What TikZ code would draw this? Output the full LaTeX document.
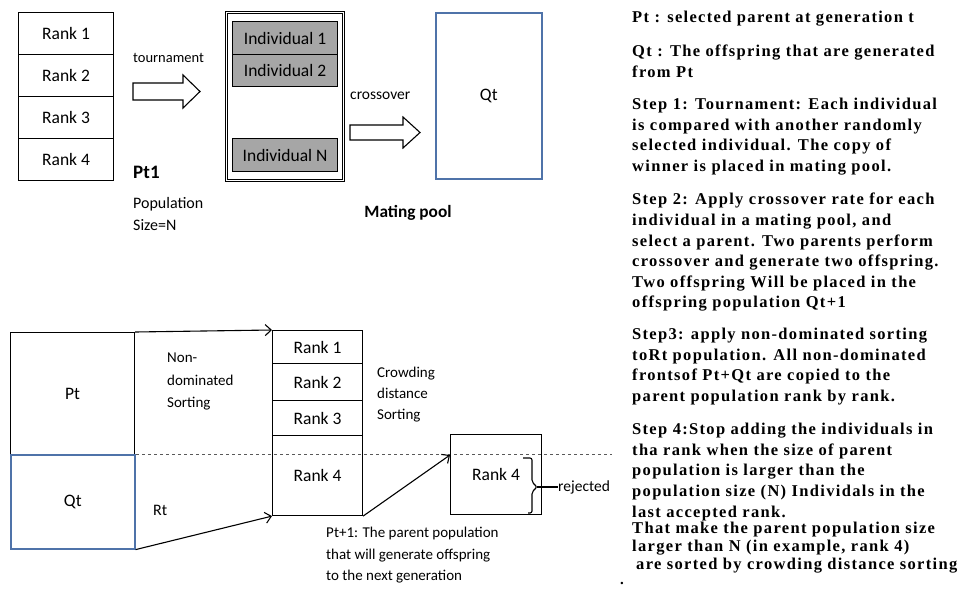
\documentclass[tikz,border=0pt]{standalone}
\usepackage{fontspec}
\setmainfont{Liberation Serif}
\setsansfont{Carlito}
\newfontfamily\stepfont[LetterSpace=8]{Liberation Serif}
\usetikzlibrary{arrows.meta}
\definecolor{qblue}{HTML}{4F73A9}
\definecolor{indgray}{HTML}{A6A6A6}

\begin{document}
\begin{tikzpicture}[x=1pt,y=-1pt,>={Straight Barb[length=6pt,width=11pt]},
	box/.style={draw,line width=1.1pt,inner sep=0pt,anchor=north west,font=\sffamily\fontsize{17.5}{20}\selectfont},
	indiv/.style={box,fill=indgray,minimum width=105pt},
	lbl/.style={inner sep=0pt,anchor=west,align=left,font=\sffamily\fontsize{15}{22}\selectfont},
	blk/.style={draw,line width=1.1pt,line join=miter},
	note/.style={inner sep=0pt,anchor=north west,align=left,font=\stepfont\bfseries\fontsize{16.5}{20.6}\selectfont}]
			\useasboundingbox (0,0) rectangle (964,589);
			\node[box,minimum width=95pt,minimum height=42pt](r1)at(18,12){Rank 1};
			\node[box,minimum width=95pt,minimum height=42pt](r2)at(18,54){Rank 2};
			\node[box,minimum width=95pt,minimum height=42pt](r3)at(18,96){Rank 3};
			\node[box,minimum width=95pt,minimum height=42pt](r4)at(18,138){Rank 4};
			\node[lbl,font=\sffamily\fontsize{14.5}{16}\selectfont](tour)at(133,58){tournament};
			\draw[blk](133,83)--(183,83)--(183,75)--(200,91.5)--(183,108)--(183,100)--(133,100)--cycle;
			\node[lbl,font=\sffamily\bfseries\fontsize{19}{22}\selectfont](pt1)at(133,172){Pt1};
			\node[lbl,font=\sffamily\fontsize{16}{22}\selectfont](pop)at(133,214){Population\\Size=N};
			\node[box,line width=0.8pt,double,double distance=1pt,minimum width=117pt,minimum height=168pt](pool)at(226,12){};
			\node[indiv,minimum height=33pt](i1)at(232,21){Individual 1};
			\node[indiv,minimum height=32pt](i2)at(232,54){Individual 2};
			\node[indiv,minimum height=33pt](iN)at(232,138){Individual N};
			\node[lbl,font=\sffamily\fontsize{15.5}{18}\selectfont](cross)at(350,96){crossover};
			\draw[blk](350,125)--(403,125)--(403,117)--(420,132.5)--(403,148)--(403,140)--(350,140)--cycle;
			\node[box,draw=qblue,line width=1.6pt,minimum width=106pt,minimum height=166pt](qtop)at(435,12){Qt};
			\node[font=\sffamily\bfseries\fontsize{17.3}{20}\selectfont](mp)at(408,213){Mating pool};
			\coordinate(dashend)at(612,454);
			\draw[dashed,gray!70!black,line width=0.8pt](10,454)--(dashend);
			\node[box,minimum width=124pt,minimum height=122pt](pt)at(10,332){Pt};
			\node[box,draw=qblue,line width=1.6pt,minimum width=124pt,minimum height=94pt](qt)at(10,454){Qt};
			\node[box,minimum width=90pt,minimum height=33pt](b1)at(272,330){Rank 1};
			\node[box,minimum width=90pt,minimum height=37pt](b2)at(272,363){Rank 2};
			\node[box,minimum width=90pt,minimum height=35pt](b3)at(272,400){Rank 3};
			\node[box,minimum width=90pt,minimum height=80pt](b4)at(272,435){Rank 4};
			\node[box,minimum width=91pt,minimum height=80pt](cut)at(450,434){Rank 4};
			\coordinate(cutin)at(450,455);
			\draw[->,line width=1.1pt](pt.north east)--(b1.north west);
			\draw[->,line width=1.1pt](qt.south east)--(b4.south west);
			\draw[->,line width=1.1pt](b4.south east)--(cutin);
			\node[lbl,anchor=north west,font=\sffamily\fontsize{15}{22.5}\selectfont](nds)at(167,353){Non-\\dominated\\Sorting};
			\node[lbl,font=\sffamily\fontsize{16}{18}\selectfont](rt)at(153,510){Rt};
			\node[lbl,anchor=north west,font=\sffamily\fontsize{15}{21}\selectfont](cds)at(377,367){Crowding\\distance\\Sorting};
			\node[lbl,font=\sffamily\fontsize{15.5}{18}\selectfont](rej)at(558,487){rejected};
			\draw[line width=1.1pt,rounded corners=2pt](523,458)--(532,458)--(532,482)--(537,487)--(532,492)--(532,513)--(528,513);
			\draw[line width=1.1pt](537,487)--(rej.west);
			\node[lbl,anchor=north west,font=\sffamily\fontsize{15}{21.5}\selectfont](ptn)at(326,527){Pt+1: The parent population\\that will generate offspring\\to the next generation};
			\node[note](n0)at(632,11){Pt : selected parent at generation t};
			\node[note](n1)at(632,45){Qt : The offspring that are generated\\from Pt};
			\node[note](n2)at(632,98){Step 1: Tournament: Each individual\\is compared with another randomly\\selected individual. The copy of\\winner is placed in mating pool.};
			\node[note](n3)at(632,193){Step 2: Apply crossover rate for each\\individual in a mating pool, and\\select a parent. Two parents perform\\crossover and generate two offspring.\\Two offspring Will be placed in the\\offspring population Qt+1};
			\node[note](n4)at(632,328){Step3: apply non-dominated sorting\\toRt population. All non-dominated\\frontsof Pt+Qt are copied to the\\parent population rank by rank.};
			\node[note](n5)at(632,423){Step 4:Stop adding the individuals in\\tha rank when the size of parent\\population is larger than the\\population size (N) Individals in the\\last accepted rank.};
			\node[note,font=\stepfont\bfseries\fontsize{16.5}{18}\selectfont](n6)at(632,522){That make the parent population size\\larger than N (in example, rank 4)\\\hspace{4pt}are sorted by crowding distance sorting};
			\node[inner sep=0pt,font=\bfseries\fontsize{15}{18}\selectfont](dot)at(622,583){.};
		\end{tikzpicture}
\end{document}
